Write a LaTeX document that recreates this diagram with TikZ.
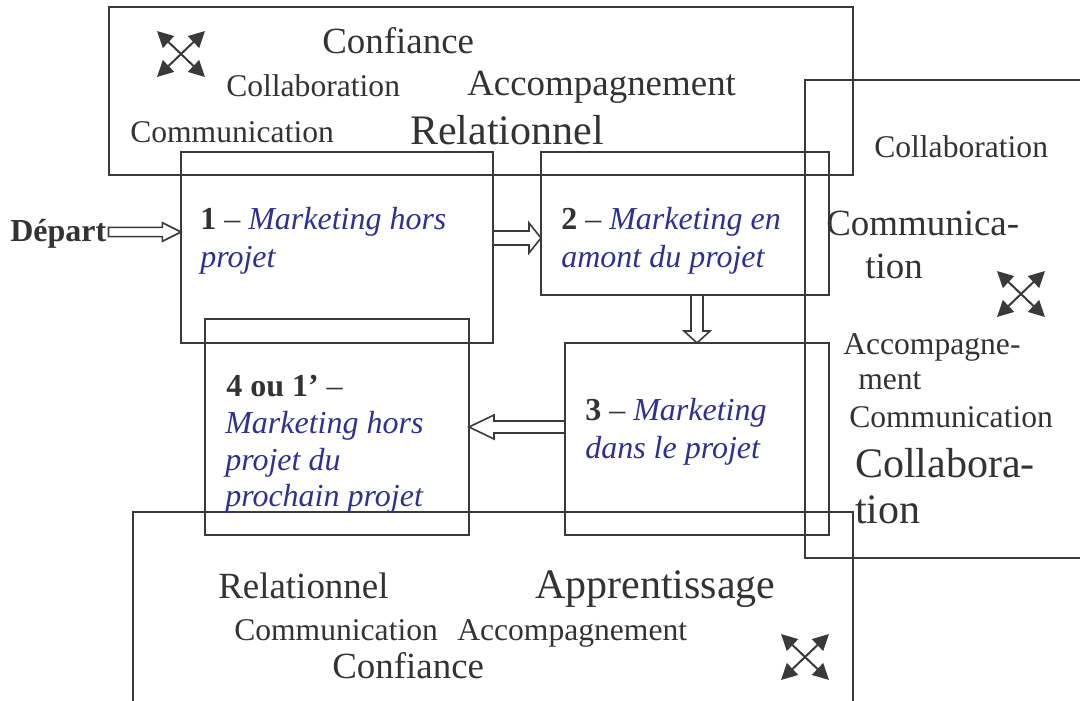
\documentclass[tikz,border=0pt]{standalone}
\usepackage{fontspec}
\setmainfont{Liberation Serif}
\usetikzlibrary{calc,arrows.meta}
\definecolor{txt}{HTML}{333333}
\definecolor{linec}{HTML}{3A3A3A}
\definecolor{blu}{HTML}{2E3192}
\newcommand{\hollowarrow}[5]{%
  \coordinate (ha-h) at ($(#2)!#5!(#1)$);
  \draw[harrow] ($(#1)!#3!90:(#2)$) -- ($(ha-h)!#3!90:(#2)$) -- ($(ha-h)!#4!90:(#2)$) -- (#2)
    -- ($(ha-h)!#4!-90:(#2)$) -- ($(ha-h)!#3!-90:(#2)$) -- ($(#1)!#3!-90:(#2)$) -- cycle;}
\begin{document}
\begin{tikzpicture}[x=0.75pt,y=-0.75pt,
  box/.style={draw=linec,line width=1.5pt,rectangle,inner sep=0pt,outer sep=0pt,anchor=north west},
  harrow/.style={draw=linec,line width=1.2pt,line join=miter},
  icon/.style={draw=linec,line width=1.5pt,{Triangle[length=12pt,width=12pt]}-{Triangle[length=12pt,width=12pt]}},
  lbl/.style={inner sep=0pt,anchor=base west,text=txt},
  sm/.style={lbl,font=\fontsize{23.7}{28}\selectfont},
  md/.style={lbl,font=\fontsize{27.7}{32}\selectfont},
  lg/.style={lbl,font=\fontsize{31.5}{36}\selectfont},
  bt/.style={lbl,font=\fontsize{24}{28}\selectfont},
  cross4/.pic={\draw[icon] (-24,-23) -- (24,23); \draw[icon] (-24,23) -- (24,-23);}
]
\useasboundingbox (0,0) rectangle (1080,700);
\clip (0,0) rectangle (1080,700);

% boxes
\node[box,minimum width=558pt,minimum height=126pt] (top) at (109,7) {};
\node[box,minimum width=225pt,minimum height=358.5pt] (right) at (805,80) {};
\node[box,minimum width=540pt,minimum height=155pt] (bot) at (133,512) {};
\node[box,minimum width=234pt,minimum height=143.25pt] (b1) at (181,152) {};
\node[box,minimum width=216pt,minimum height=107.25pt] (b2) at (541,152) {};
\node[box,minimum width=198pt,minimum height=144pt] (b3) at (565,343) {};
\node[box,minimum width=198pt,minimum height=162pt] (b4) at (205,319) {};

% top box texts
\pic at (181,54) {cross4};
\node[md] (t1) at (322,53) {Confiance};
\node[sm] (t2) at (226,96) {Collaboration};
\node[md] (t3) at (467,95) {Accompagnement};
\node[sm] (t4) at (130,142) {Communication};
\node[lg] (t5) at (410,144) {Relationnel};

% right box texts
\node[sm] (r1) at (874,157) {Collaboration};
\node[md] (r2) at (826,235) {Communica-};
\node[md] (r3) at (865,278) {tion};
\pic at (1021,294) {cross4};
\node[sm] (r4) at (843,354) {Accompagne-};
\node[sm] (r5) at (858,389) {ment};
\node[sm] (r6) at (849,427) {Communication};
\node[lg] (r7) at (855,477) {Collabora-};
\node[lg] (r8) at (855,523) {tion};

% bottom box texts
\node[md] (u1) at (218,598) {Relationnel};
\node[lg] (u2) at (535,598) {Apprentissage};
\node[sm] (u3) at (234,640) {Communication};
\node[sm] (u4) at (457,640) {Accompagnement};
\node[md] (u5) at (332,678) {Confiance};
\pic at (805,657) {cross4};

% step texts
\node[bt] (dep) at (10,241) {\textbf{Départ}};
\node[bt] (s1a) at (200,229) {\textbf{1} – \textcolor{blu}{\itshape Marketing hors}};
\node[bt] (s1b) at (200,267) {\textcolor{blu}{\itshape projet}};
\node[bt] (s2a) at (561,229) {\textbf{2} – \textcolor{blu}{\itshape Marketing en}};
\node[bt] (s2b) at (561,267) {\textcolor{blu}{\itshape amont du projet}};
\node[bt] (s3a) at (585,420) {\textbf{3} – \textcolor{blu}{\itshape Marketing}};
\node[bt] (s3b) at (585,458) {\textcolor{blu}{\itshape dans le projet}};
\node[bt] (s4a) at (226,396) {\textbf{4 ou 1’} –};
\node[bt] (s4b) at (225,433) {\textcolor{blu}{\itshape Marketing hors}};
\node[bt] (s4c) at (225,470) {\textcolor{blu}{\itshape projet du}};
\node[bt] (s4d) at (225,506) {\textcolor{blu}{\itshape prochain projet}};

% hollow arrows
\coordinate (a0s) at ($(dep.east |- 0,232)+(2,0)$);
\coordinate (a0e) at (b1.west |- 0,232);
\hollowarrow{a0s}{a0e}{3.5pt}{7pt}{14pt}
\coordinate (a1s) at (b1.east |- 0,238);
\coordinate (a1e) at (b2.west |- 0,238);
\hollowarrow{a1s}{a1e}{5.25pt}{11.25pt}{9pt}
\coordinate (a2s) at (b2.south -| 697,0);
\coordinate (a2e) at (b3.north -| 697,0);
\hollowarrow{a2s}{a2e}{4.5pt}{9.75pt}{9pt}
\coordinate (a3s) at (b3.west |- 0,427);
\coordinate (a3e) at (b4.east |- 0,427);
\hollowarrow{a3s}{a3e}{4.5pt}{9pt}{18.75pt}
\end{tikzpicture}
\end{document}
